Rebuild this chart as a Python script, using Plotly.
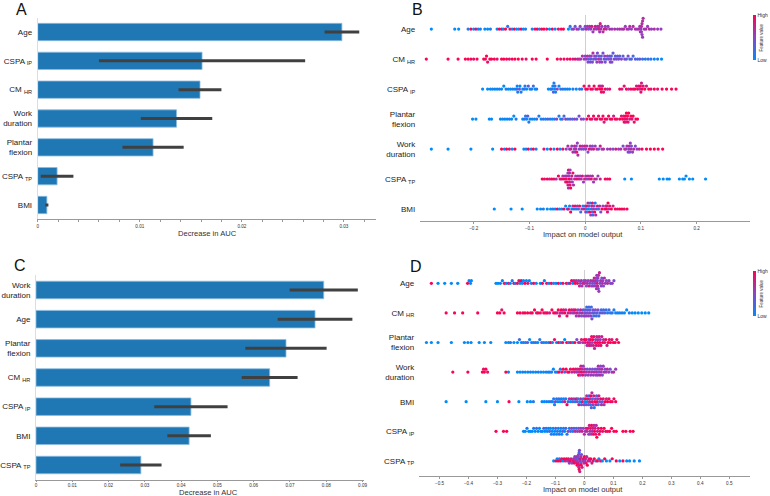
import math
import plotly.graph_objects as go

FONT = "Liberation Sans, Arial, sans-serif"

# ---- panel A: permutation importance (decrease in AUC) ----
a_labels = ["Age", "CSPA <sub>IP</sub>", "CM <sub>HR</sub>", "Work<br>duration",
            "Plantar<br>flexion", "CSPA <sub>TP</sub>", "BMI"]
a_values = [0.0298, 0.0161, 0.0159, 0.0136, 0.0113, 0.0019, 0.0009]
a_errors = [0.0017, 0.0101, 0.0021, 0.0035, 0.0030, 0.0016, 0.00015]

# ---- panel C ----
c_labels = ["Work<br>duration", "Age", "Plantar<br>flexion", "CM <sub>HR</sub>",
            "CSPA <sub>IP</sub>", "BMI", "CSPA <sub>TP</sub>"]
c_values = [0.0793, 0.0769, 0.0689, 0.0644, 0.0427, 0.0422, 0.0289]
c_errors = [0.0094, 0.0103, 0.0112, 0.0077, 0.0101, 0.0060, 0.0057]

# ---- panel B: SHAP values, (impact x1000, feature value 0=low..9=high) ----
b_labels = ["Age", "CM <sub>HR</sub>", "CSPA <sub>IP</sub>", "Plantar<br>flexion",
            "Work<br>duration", "CSPA <sub>TP</sub>", "BMI"]

b_age = [(-276,0),(-234,0),(-227,0),(-210,1),(-205,9),(-200,0),(-196,8),(-192,0),(-188,1),(-180,0),(-175,0),(-170,1),
         (-158,0),(-154,9),(-150,8),(-147,0),(-143,9),(-139,1),(-135,8),(-131,0),(-127,9),(-123,0),(-119,2),(-115,9),(-111,0),(-107,1),
         (-95,0),(-90,8),(-86,9),(-82,1),(-78,9),(-74,9),(-69,8),(-64,0),(-59,9),(-54,1),(-48,8),(-43,9),(-39,9),
         (-30,0),(-27,2),(-24,1),(-21,5),(-18,3),(-15,6),(-12,4),(-9,5),(-6,2),(-3,4),(0,4),(2,6),(4,5),(6,4),(8,6),(10,5),(12,7),
         (14,5),(16,6),(18,7),(20,5),(22,6),(24,7),(25,6),(26,5),(27,7),(28,6),(30,5),(32,6),(34,7),(36,5),(38,6),(41,5),(44,6),
         (48,5),(53,6),(58,5),(62,6),(66,5),(69,6),(72,5),(75,6),(78,5),(80,6),(83,5),(86,6),(90,6),(93,5),(96,6),(98,5),(99,6),
         (100,5),(101,6),(101,5),(102,6),(102,5),(103,6),(103,5),(104,6),(106,5),(109,6),(112,5),(115,6),(119,5),(124,6),(130,5),(136,5)]

b_cm_hr = [(-285,9),(-246,9),(-228,9),(-215,9),(-210,9),(-205,9),(-200,8),(-194,9),(-182,9),(-179,9),(-177,9),(-175,8),(-171,9),
           (-168,9),(-163,9),(-158,8),(-150,9),(-146,9),(-141,9),(-136,8),(-131,9),(-126,9),(-120,9),(-113,9),(-106,8),(-95,9),
           (-88,9),(-68,9),(-50,9),(-44,8),(-38,9),(-32,8),(-27,9),(-22,7),(-18,8),(-14,6),(-11,7),(-8,5),(-5,6),(-2,5),(0,4),
           (2,5),(4,6),(5,4),(6,3),(8,5),(9,4),(10,3),(11,5),(13,4),(14,6),(15,3),(17,5),(19,4),(20,3),(21,5),(22,4),(24,6),(25,3),
           (26,5),(28,4),(29,3),(30,5),(32,4),(34,3),(35,5),(36,4),(38,3),(40,5),(42,4),(44,3),(45,5),(46,4),(47,3),(48,4),(50,3),
           (52,4),(54,3),(56,4),(58,3),(60,4),(62,3),(65,4),(68,3),(71,4),(74,3),(77,4),(80,2),(83,3),(86,2),(90,3),(94,2),(98,3),
           (103,2),(108,1),(113,2),(118,1),(124,0),(130,1),(137,0)]

b_cspa_ip = [(-184,0),(-175,0),(-170,0),(-166,1),(-162,0),(-158,0),(-154,1),(-150,0),(-146,0),(-142,1),(-138,0),(-134,0),(-130,1),
             (-126,0),(-123,2),(-122,0),(-121,1),(-118,3),(-117,0),(-115,1),(-112,0),(-109,2),(-108,1),(-105,0),(-102,3),(-99,0),
             (-96,1),(-93,2),(-90,0),(-87,1),(-66,0),(-62,2),(-60,1),(-58,0),(-57,3),(-56,1),(-55,0),(-54,2),(-53,1),(-50,4),
             (-47,0),(-44,1),(-40,2),(-36,0),(-32,1),(-28,0),(-22,1),(-16,0),(-10,2),(-6,1),(-2,9),(1,8),(4,9),(7,7),(10,9),(13,8),
             (16,9),(19,7),(22,9),(25,8),(27,9),(28,6),(29,8),(30,9),(31,7),(33,8),(36,9),(40,6),(44,8),(62,9),(66,7),(70,8),(74,9),
             (78,6),(82,9),(86,8),(89,9),(92,7),(94,9),(96,8),(98,6),(99,9),(100,8),(101,7),(102,9),(104,8),(107,9),(110,7),(114,9),
             (118,8),(124,9),(130,8),(138,9),(146,9),(155,9),(163,9)]

b_plantar = [(-202,0),(-196,0),(-172,0),(-168,0),(-152,0),(-148,1),(-144,0),(-140,0),(-136,1),(-132,0),(-128,0),(-124,1),(-112,0),
             (-109,2),(-107,1),(-105,0),(-103,3),(-101,1),(-99,0),(-95,1),(-91,0),(-87,2),(-83,1),(-79,0),(-75,2),(-71,0),(-67,3),
             (-63,1),(-59,0),(-55,2),(-51,4),(-47,1),(-44,0),(-41,3),(-38,2),(-35,5),(-31,1),(-27,4),(-23,2),(-19,5),(-15,3),(-11,4),
             (-7,5),(-3,4),(3,9),(6,8),(9,9),(12,8),(15,9),(18,7),(21,9),(24,8),(27,9),(30,8),(32,9),(34,7),(36,9),(39,8),(42,9),
             (45,8),(48,9),(51,7),(54,9),(57,8),(62,9),(65,8),(67,9),(69,7),(70,9),(71,8),(72,9),(73,7),(74,9),(75,8),(76,9),(77,8),
             (78,9),(80,7),(82,9),(84,8),(86,9),(88,8),(91,9),(94,9)]

b_work = [(-276,0),(-246,0),(-205,0),(-166,0),(-150,9),(-145,0),(-141,9),(-136,8),(-131,0),(-126,9),(-110,0),(-106,1),(-102,9),
          (-97,0),(-93,9),(-88,1),(-74,8),(-68,0),(-62,9),(-56,1),(-50,9),(-45,0),(-40,8),(-34,5),(-31,6),(-28,4),(-26,7),(-24,5),
          (-22,6),(-20,4),(-19,7),(-18,5),(-17,6),(-16,4),(-15,8),(-14,5),(-13,6),(-11,4),(-9,7),(-7,5),(-5,6),(-3,4),(-1,7),(1,5),
          (3,6),(5,4),(7,8),(9,5),(11,6),(13,4),(15,7),(18,5),(21,6),(24,4),(27,7),(30,5),(33,6),(40,5),(45,6),(50,4),(55,7),(60,5),
          (64,6),(68,4),(71,7),(73,5),(75,6),(77,4),(78,5),(79,6),(80,4),(81,5),(82,6),(83,4),(85,5),(87,6),(90,4),(93,5),(97,6),
          (102,9),(110,9),(117,9),(124,9),(131,9),(139,9)]

b_cspa_tp = [(-77,9),(-73,8),(-68,9),(-64,7),(-60,9),(-56,8),(-52,6),(-48,9),(-45,7),(-42,8),(-40,6),(-38,9),(-36,5),(-35,7),
             (-34,8),(-33,6),(-32,9),(-31,5),(-31,7),(-30,8),(-30,6),(-29,9),(-29,5),(-28,7),(-28,6),(-27,8),(-27,5),(-26,9),(-25,6),
             (-24,7),(-23,5),(-22,8),(-21,6),(-19,7),(-17,5),(-15,8),(-13,6),(-11,7),(-9,5),(-7,6),(-5,8),(-3,5),(-1,7),(1,6),(3,5),
             (5,7),(7,6),(9,5),(11,8),(13,6),(15,5),(17,7),(20,6),(23,5),(27,7),(36,9),(40,8),(44,9),(71,0),(83,0),(133,0),(140,0),
             (147,0),(151,0),(169,0),(175,0),(178,0),(181,0),(187,0),(193,0),(216,0)]

b_bmi = [(-163,0),(-133,0),(-113,0),(-86,0),(-80,0),(-75,1),(-68,0),(-62,0),(-58,1),(-54,0),(-50,8),(-46,0),(-42,1),(-38,9),
         (-35,0),(-32,2),(-30,8),(-28,1),(-26,9),(-24,0),(-22,7),(-20,2),(-18,8),(-16,1),(-14,6),(-12,3),(-10,8),(-8,2),(-6,5),
         (-4,1),(-2,7),(0,3),(1,5),(2,1),(3,8),(4,2),(5,6),(6,0),(7,4),(8,9),(9,2),(10,5),(11,1),(12,7),(13,3),(13,8),(14,2),
         (15,5),(16,4),(17,9),(18,1),(19,6),(20,3),(22,8),(24,2),(26,6),(28,4),(30,9),(32,5),(35,8),(37,6),(38,9),(39,7),(40,8),
         (41,9),(42,6),(44,8),(47,9),(50,7),(54,9),(58,8),(62,9),(66,9),(70,8),(75,9)]

# ---- panel D ----
d_labels = ["Age", "CM <sub>HR</sub>", "Plantar<br>flexion", "Work<br>duration", "BMI",
            "CSPA <sub>IP</sub>", "CSPA <sub>TP</sub>"]

d_age = [(-528,9),(-505,0),(-482,0),(-459,0),(-437,0),(-403,9),(-398,0),(-393,0),(-390,0),(-305,0),(-298,0),(-290,1),(-283,0),
         (-276,9),(-270,0),(-262,8),(-256,0),(-249,1),(-243,9),(-238,0),(-231,9),(-226,8),(-222,0),(-218,9),(-214,1),(-210,0),
         (-205,9),(-200,0),(-195,8),(-190,0),(-183,0),(-175,9),(-166,0),(-152,0),(-145,9),(-138,0),(-130,8),(-122,0),(-114,9),
         (-106,1),(-98,0),(-90,9),(-82,0),(-74,8),(-62,9),(-56,0),(-50,8),(-44,9),(-40,0),(-36,7),(-32,9),(-28,6),(-24,8),(-20,5),
         (-17,7),(-14,4),(-11,6),(-8,5),(-5,7),(-2,4),(1,6),(4,5),(7,4),(10,6),(13,5),(16,7),(19,4),(22,6),(25,5),(28,4),(30,6),
         (32,5),(34,7),(36,4),(38,6),(40,5),(41,4),(42,6),(43,5),(44,7),(45,4),(46,6),(47,5),(48,4),(49,6),(50,5),(52,7),(54,4),
         (56,6),(58,5),(60,4),(62,6),(64,5),(66,4),(69,6),(72,5),(76,4),(80,6),(85,5),(90,4),(96,5),(102,4)]

d_cm_hr = [(-477,9),(-448,9),(-420,9),(-368,9),(-300,9),(-292,9),(-285,8),(-277,9),(-231,9),(-222,9),(-212,8),(-205,9),(-196,9),
           (-186,8),(-180,9),(-172,9),(-165,7),(-160,9),(-152,8),(-146,9),(-140,9),(-134,8),(-128,9),(-120,7),(-112,9),(-106,8),
           (-100,9),(-94,7),(-90,9),(-86,8),(-83,6),(-80,9),(-76,7),(-72,8),(-68,9),(-64,6),(-60,8),(-56,7),(-52,9),(-48,6),(-44,8),
           (-40,5),(-37,7),(-34,6),(-31,8),(-28,5),(-25,7),(-22,4),(-19,6),(-16,5),(-13,7),(-10,4),(-7,6),(-4,3),(-1,5),(2,4),(4,3),
           (6,5),(8,2),(10,4),(12,3),(14,5),(16,2),(18,4),(20,3),(22,5),(24,2),(26,4),(28,3),(30,4),(32,2),(35,3),(38,4),(41,2),
           (44,3),(47,4),(50,2),(54,3),(58,2),(62,3),(66,2),(70,3),(75,2),(80,1),(85,2),(90,1),(96,2),(102,1),(108,0),(115,1),
           (122,0),(130,1),(138,0),(146,0),(155,1),(165,0),(175,0),(186,0),(198,0),(210,0),(222,0)]

d_plantar = [(-545,0),(-528,0),(-505,0),(-459,0),(-414,0),(-402,0),(-391,0),(-363,0),(-345,0),(-323,0),(-271,0),(-262,0),(-255,1),
             (-243,0),(-231,0),(-224,2),(-217,0),(-210,1),(-203,0),(-196,3),(-189,0),(-182,1),(-175,0),(-168,2),(-161,0),(-154,1),
             (-147,4),(-140,0),(-132,1),(-124,0),(-117,9),(-110,1),(-103,8),(-96,0),(-89,9),(-82,1),(-75,8),(-68,0),(-61,9),(-54,2),
             (-47,8),(-40,0),(-33,9),(-26,4),(-20,7),(-15,5),(-10,8),(-5,6),(0,9),(3,7),(6,8),(9,6),(12,9),(15,5),(17,8),(19,7),
             (21,9),(23,6),(25,8),(27,5),(29,9),(31,7),(33,8),(35,6),(37,9),(39,5),(41,8),(43,7),(45,9),(47,6),(49,8),(51,7),(53,9),
             (55,5),(57,8),(60,7),(63,9),(66,6),(70,8),(74,9),(78,7),(82,9),(86,8),(90,9),(95,8),(100,9),(106,9),(112,8),(118,9)]

d_work = [(-454,9),(-402,9),(-352,9),(-348,8),(-345,9),(-340,9),(-334,8),(-271,9),(-262,0),(-231,0),(-222,0),(-213,1),(-204,0),
          (-195,0),(-186,1),(-177,0),(-168,0),(-159,1),(-150,0),(-141,0),(-132,1),(-125,0),(-119,0),(-113,1),(-107,0),(-100,2),
          (-94,0),(-88,9),(-83,1),(-78,8),(-73,9),(-68,2),(-63,9),(-58,7),(-53,9),(-48,8),(-43,6),(-38,9),(-34,7),(-30,8),(-26,5),
          (-23,7),(-20,9),(-18,6),(-16,8),(-14,5),(-12,7),(-10,9),(-8,6),(-6,8),(-4,5),(-2,7),(1,6),(4,5),(7,6),(10,4),(13,5),
          (16,6),(19,4),(22,5),(25,6),(28,4),(31,5),(34,6),(37,4),(40,5),(42,6),(44,4),(46,5),(48,6),(50,4),(52,5),(54,6),(56,4),
          (58,5),(60,6),(62,4),(65,5),(68,6),(71,4),(75,5),(79,6),(84,5),(89,4),(95,5),(101,6),(108,5)]

d_bmi = [(-477,0),(-408,0),(-340,0),(-300,0),(-260,9),(-226,0),(-197,0),(-186,0),(-176,1),(-146,0),(-138,0),(-130,1),(-122,0),
         (-115,2),(-110,0),(-106,1),(-103,0),(-100,4),(-96,1),(-92,0),(-88,2),(-84,0),(-80,1),(-76,3),(-72,0),(-68,7),(-64,1),
         (-60,9),(-56,2),(-52,6),(-48,0),(-44,8),(-40,3),(-36,5),(-32,1),(-28,9),(-25,4),(-22,2),(-19,7),(-16,0),(-13,6),(-10,3),
         (-7,8),(-4,2),(-1,5),(2,1),(4,9),(6,3),(8,6),(10,0),(12,8),(14,4),(16,2),(18,7),(20,5),(21,1),(22,9),(24,3),(26,6),
         (27,8),(28,2),(30,5),(32,7),(34,1),(36,9),(38,4),(40,6),(42,3),(44,8),(46,5),(48,2),(50,7),(53,4),(56,9),(59,6),(62,3),
         (65,8),(68,5),(72,9),(76,7),(80,9),(85,8),(90,9),(96,8),(102,9),(108,9)]

d_cspa_ip = [(-305,9),(-279,9),(-268,9),(-210,0),(-204,0),(-198,1),(-192,0),(-186,0),(-180,0),(-175,1),(-170,0),(-165,2),(-160,0),
             (-155,0),(-150,1),(-145,0),(-140,3),(-136,0),(-132,1),(-128,0),(-124,0),(-120,2),(-117,0),(-114,1),(-111,0),(-108,0),
             (-105,1),(-102,0),(-99,3),(-96,0),(-93,1),(-90,0),(-87,2),(-84,0),(-81,1),(-78,0),(-75,3),(-72,1),(-68,0),(-64,2),
             (-60,1),(-56,4),(-52,0),(-48,2),(-44,5),(-40,1),(-36,3),(-32,6),(-28,2),(-24,5),(-20,4),(-16,6),(-12,5),(-8,7),(-4,4),
             (0,6),(3,5),(6,7),(9,6),(12,8),(15,5),(17,7),(19,6),(21,8),(23,5),(25,9),(27,6),(29,7),(31,8),(33,6),(35,9),(37,7),
             (39,8),(41,6),(43,9),(45,7),(48,8),(51,9),(54,8),(58,9),(63,8),(68,9),(74,9),(80,8),(87,9),(94,9),(102,9),(110,9),
             (133,9),(143,9),(158,9),(168,9)]

d_cspa_tp = [(-106,0),(-98,9),(-94,0),(-90,9),(-86,1),(-82,9),(-78,8),(-74,0),(-70,9),(-66,7),(-62,9),(-58,6),(-55,8),(-52,5),
             (-49,9),(-46,7),(-43,4),(-40,8),(-37,6),(-35,9),(-33,5),(-31,7),(-29,4),(-27,8),(-26,6),(-25,9),(-24,5),(-23,3),
             (-22,7),(-21,4),(-20,8),(-20,5),(-19,6),(-18,2),(-18,9),(-17,4),(-16,7),(-15,5),(-14,8),(-13,3),(-12,6),(-11,9),
             (-10,4),(-8,7),(-6,5),(-4,8),(-2,6),(0,9),(2,5),(4,7),(6,8),(8,6),(10,9),(13,7),(16,8),(19,6),(22,9),(26,7),(30,8),
             (34,9),(40,0),(45,9),(50,1),(56,8),(62,0),(70,9),(76,0),(88,0),(96,9),(110,9),(122,0),(133,9),(146,0),(156,0),
             (172,0),(190,0)]

b_rows = [b_age, b_cm_hr, b_cspa_ip, b_plantar, b_work, b_cspa_tp, b_bmi]
d_rows = [d_age, d_cm_hr, d_plantar, d_work, d_bmi, d_cspa_ip, d_cspa_tp]

SHAP_SCALE = [[0, "#008bfb"], [0.5, "#8a45c8"], [1, "#ff0052"]]


def swarm(rows, binw, step=0.1, cap=0.36):
    # stack points that fall in the same x bin, alternating above/below the row
    xs, ys, cs = [], [], []
    n = len(rows)
    for i, pts in enumerate(rows):
        pts = sorted(pts, key=lambda p: p[0])
        lo = pts[0][0] / 1000
        last, layer, offs = None, 0, []
        for x, c in pts:
            q = round((x / 1000 - lo) / binw)
            layer = layer + 1 if q == last else 0
            last = q
            offs.append(math.ceil(layer / 2) * (1 if layer % 2 else -1))
        m = max(abs(o) for o in offs) or 1
        s = min(step, cap / m)
        base = n - 1 - i
        for (x, c), o in zip(pts, offs):
            xs.append(x / 1000)
            ys.append(base + o * s)
            cs.append(c / 9)
    return xs, ys, cs


fig = go.Figure()

bar_style = dict(orientation="h", width=0.6, marker=dict(color="#1f77b4", line=dict(color="#8dbbe0", width=0.8)))
fig.add_trace(go.Bar(x=a_values, y=a_labels, xaxis="x", yaxis="y", **bar_style,
                     error_x=dict(type="data", array=a_errors, color="#404040", thickness=3, width=0)))
fig.add_trace(go.Bar(x=c_values, y=c_labels, xaxis="x3", yaxis="y3", **bar_style,
                     error_x=dict(type="data", array=c_errors, color="#404040", thickness=3, width=0)))

for rows, xa, ya, cy in [(b_rows, "x2", "y2", 1 - 37.5 / 496, ), (d_rows, "x4", "y4", 1 - 293.5 / 496)]:
    binw = 0.0045 if xa == "x2" else 0.0086
    xs, ys, cs = swarm(rows, binw)
    fig.add_trace(go.Scatter(
        x=xs, y=ys, mode="markers", xaxis=xa, yaxis=ya, hoverinfo="skip",
        marker=dict(size=3.2, color=cs, colorscale=SHAP_SCALE, cmin=0, cmax=1, line=dict(width=0),
                    showscale=True,
                    colorbar=dict(x=756 / 770, xanchor="left", y=cy, yanchor="middle", thickness=3,
                                  lenmode="pixels", len=45, outlinewidth=0, xpad=0, ypad=0,
                                  tickvals=[0, 1], ticktext=["Low", "High"], ticks="",
                                  tickfont=dict(size=5, color="#333", family=FONT)))))

tick_small = dict(size=4.6, color="#333", family=FONT)
lab_font = dict(size=8, color="#222", family=FONT)


def bar_x(dom, rng, dtick, minor=None, ticklen=2):
    d = dict(domain=dom, range=rng, dtick=dtick, tick0=0, showgrid=False, zeroline=False,
             showline=True, linecolor="#999", linewidth=1, ticks="outside", ticklen=ticklen,
             tickcolor="#999", tickfont=tick_small)
    if minor:
        d["minor"] = dict(dtick=minor, ticklen=2, tickcolor="#999", ticks="outside")
    return d


def bar_y(dom, labels, anchor):
    return dict(domain=dom, type="category", categoryorder="array", categoryarray=labels[::-1],
                range=[-0.5, 6.5], showgrid=False, showline=True, linecolor="#ddd", ticks="",
                tickfont=lab_font, ticklabelstandoff=3, anchor=anchor)


def shap_x(dom, rng, anchor):
    return dict(domain=dom, range=rng, dtick=0.1, tick0=0, showgrid=False, zeroline=True,
                zerolinecolor="#cfcfcf", zerolinewidth=1, showline=True, linecolor="#999",
                ticks="outside", ticklen=2, tickcolor="#999", tickfont=tick_small,
                anchor=anchor, layer="below traces")


def shap_y(dom, rng, labels, anchor):
    return dict(domain=dom, range=rng, tickvals=list(range(6, -1, -1)), ticktext=labels,
                showgrid=False, zeroline=False, showline=False, ticks="", tickfont=lab_font,
                ticklabelstandoff=4, anchor=anchor)


fig.update_layout(
    width=770, height=496, margin=dict(l=0, r=0, t=0, b=0),
    paper_bgcolor="white", plot_bgcolor="white", showlegend=False, bargap=0.4,
    font=dict(family=FONT, color="#222"),
    xaxis=bar_x([34 / 770, 375 / 770], [0, 0.0331], 0.01, 0.002) | dict(anchor="y"),
    yaxis=bar_y([1 - 219.4 / 496, 1 - 17.6 / 496], a_labels, "x"),
    xaxis3=bar_x([32.3 / 770, 363.3 / 770], [0, 0.0904], 0.01, ticklen=1) | dict(anchor="y3"),
    yaxis3=bar_y([1 - 479.6 / 496, 1 - 275.4 / 496], c_labels, "x3"),
    xaxis2=shap_x([420 / 770, 753 / 770], [-0.296, 0.296], "y2"),
    yaxis2=shap_y([1 - 221 / 496, 1 - 15 / 496], [-0.4, 6.47], b_labels, "x2"),
    xaxis4=shap_x([419 / 770, 753 / 770], [-0.570, 0.572], "y4"),
    yaxis4=shap_y([1 - 476 / 496, 1 - 270 / 496], [-0.51, 6.45], d_labels, "x4"),
)

anns = [
    ("A", 18, 9.5, 16), ("B", 417, 9, 16), ("C", 16, 265, 16), ("D", 415.5, 266, 16),
    ("Decrease in AUC", 205, 233, 7.6), ("Decrease in AUC", 206, 492.5, 7.6),
    ("Impact on model output", 584, 234, 7.6), ("Impact on model output", 584, 489.5, 7.6),
]
for text, px, py, size in anns:
    fig.add_annotation(text=text, x=px / 770, y=1 - py / 496, xref="paper", yref="paper",
                       xanchor="center", yanchor="middle", showarrow=False,
                       font=dict(size=size, color="#111" if size > 10 else "#333", family=FONT))
for py in (37.5, 293.5):
    fig.add_annotation(text="Feature value", x=764 / 770, y=1 - py / 496, xref="paper", yref="paper",
                       textangle=-90, showarrow=False, xanchor="center", yanchor="middle",
                       font=dict(size=4.5, color="#333", family=FONT))

# the page's default body margin would push the 770x496 figure off the window
fig.write_html("out.html", config={"displayModeBar": False},
               post_script="document.body.style.margin='0';")
